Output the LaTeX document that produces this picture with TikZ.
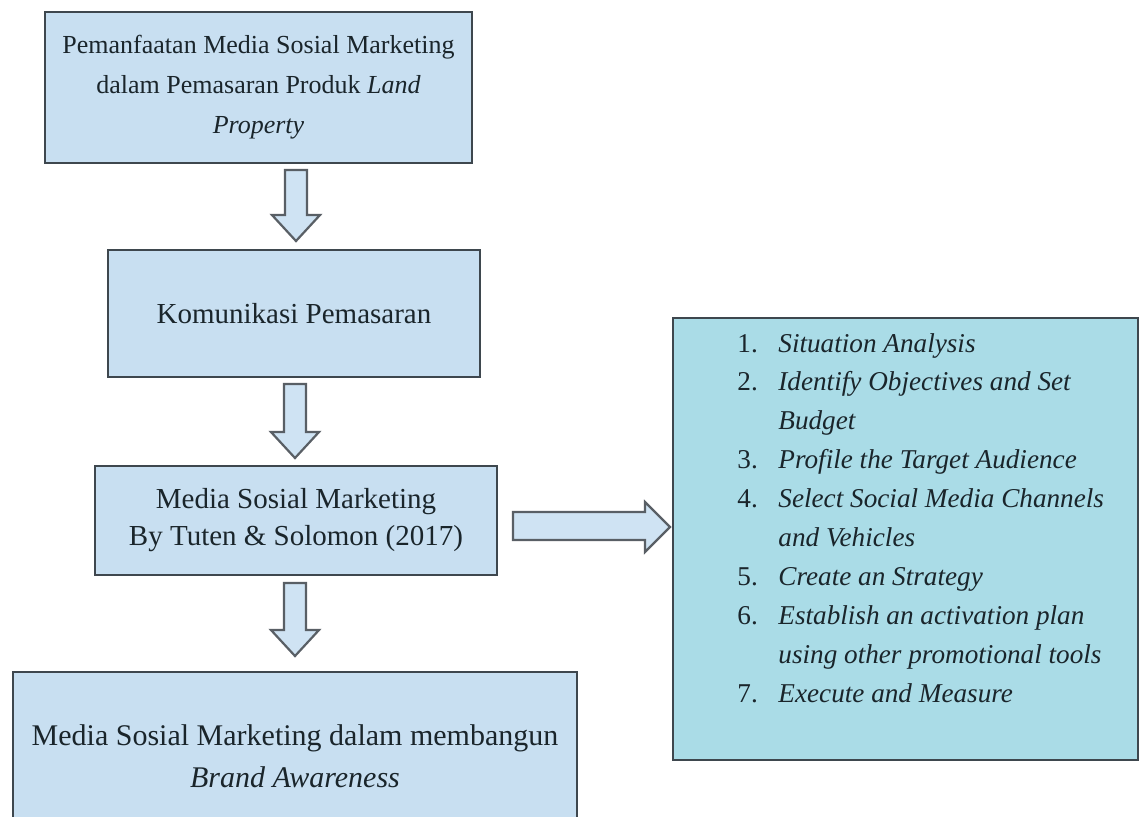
\documentclass[tikz,border=0pt]{standalone}
\usepackage{fontspec}
\setmainfont{Liberation Serif}
\definecolor{boxfill}{HTML}{C8DFF1}
\definecolor{rightfill}{HTML}{AADCE7}
\definecolor{boxline}{HTML}{3E474E}
\definecolor{arrowline}{HTML}{595F65}
\definecolor{arrowfill}{HTML}{CFE3F3}
\definecolor{txt}{HTML}{1A252B}
\begin{document}
\begin{tikzpicture}[x=0.5pt,y=-0.5pt,
  box/.style={draw=boxline, line width=1.4pt, fill=boxfill, inner sep=0pt, align=center, text=txt},
  blockarrow/.style={draw=arrowline, line width=1.1pt, fill=arrowfill}]
\useasboundingbox (0,0) rectangle (1140,816);
\fill[white] (0,0) rectangle (1140,816);

\node[box, minimum width=213.5pt, minimum height=75.5pt, font=\fontsize{13}{20}\selectfont] (b1) at (258.5,87.5)
  {Pemanfaatan Media Sosial Marketing\\dalam Pemasaran Produk \textit{Land}\\\textit{Property}};
\node[box, minimum width=186pt, minimum height=63.5pt, font=\fontsize{14.5}{20}\selectfont] (b2) at (294,313.5)
  {Komunikasi Pemasaran};
\node[box, minimum width=201pt, minimum height=54.5pt, font=\fontsize{14.5}{18.5}\selectfont] (b3) at (296,520.5)
  {Media Sosial Marketing\\By Tuten \& Solomon (2017)};
\node[box, minimum width=282pt, minimum height=84pt, font=\fontsize{15}{21}\selectfont] (b4) at (295,756)
  {Media Sosial Marketing dalam membangun\\\textit{Brand Awareness}};
\node[box, fill=rightfill, minimum width=232.5pt, minimum height=221pt] (rb) at (905.5,539) {};

\node[anchor=base west, inner sep=0pt, text=txt, font=\fontsize{13.6}{19.45}\selectfont\itshape] (list) at (737,352)
  {\begin{tabular}[t]{@{}p{20.5pt}@{}l@{}}
   \upshape 1. & Situation Analysis\\
   \upshape 2. & Identify Objectives and Set\\
               & Budget\\
   \upshape 3. & Profile the Target Audience\\
   \upshape 4. & Select Social Media Channels\\
               & and Vehicles\\
   \upshape 5. & Create an Strategy\\
   \upshape 6. & Establish an activation plan\\
               & using other promotional tools\\
   \upshape 7. & Execute and Measure
   \end{tabular}};

\newcommand{\blockdown}[3]{%
  \draw[blockarrow] (#1-11,#2) -- (#1+11,#2) -- (#1+11,#3-26) -- (#1+24,#3-26) -- (#1,#3)
     -- (#1-24,#3-26) -- (#1-11,#3-26) -- cycle;}
\blockdown{296}{170}{241}
\blockdown{295}{384}{458}
\blockdown{295}{583}{656}

\draw[blockarrow] (513,512) -- (645,512) -- (645,502) -- (670,527) -- (645,552) -- (645,540) -- (513,540) -- cycle;
\end{tikzpicture}
\end{document}
